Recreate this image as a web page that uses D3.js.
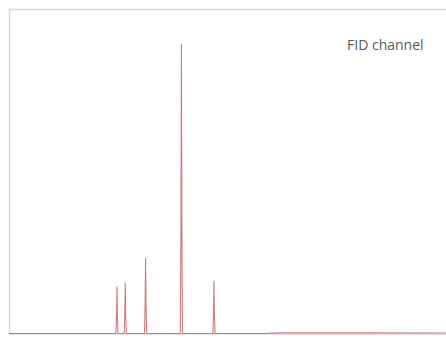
<!DOCTYPE html>
<html>
<head>
<meta charset="utf-8">
<script src="https://cdn.jsdelivr.net/npm/d3@7"></script>
<style>
  body { margin: 0; background: #fff; }
  svg { display: block; }
  .label { font-family: "Open Sans", "Noto Sans", sans-serif; font-size: 14px; fill: #595959; }
</style>
</head>
<body>
<script>
// retention time (min) and detector signal (% of full scale)
var times   = [0, 4.89, 4.92, 4.94, 4.96, 4.99, 5.27, 5.30, 5.32, 5.34, 5.37,
               6.20, 6.23, 6.25, 6.27, 6.30, 7.84, 7.87, 7.89, 7.91, 7.94,
               9.33, 9.36, 9.38, 9.40, 9.43, 11.6, 12.4, 16.0, 20.0];
var signal  = [0, 0, 5.5, 14.5, 5.5, 0, 0, 6.0, 15.8, 6.0, 0,
               0, 9.0, 23.3, 9.0, 0, 0, 34.0, 89.5, 34.0, 0,
               0, 6.0, 16.2, 6.0, 0, 0, 0.2, 0.2, 0.15];
var channelName = "FID channel";

var width = 446,
    height = 340,
    leftEdge = 9,
    topEdge = 9,
    baseY = 333.5;

var svg = d3.select("body").append("svg")
    .attr("width", width)
    .attr("height", height);

var x = d3.scaleLinear().domain([0, 20]).range([leftEdge, width]);
var y = d3.scaleLinear().domain([0, 100]).range([baseY, topEdge + 1]);

// plot frame (right side runs off the picture)
svg.append("rect")
    .attr("x", leftEdge + 0.5)
    .attr("y", topEdge + 0.5)
    .attr("width", width)
    .attr("height", baseY - topEdge)
    .attr("fill", "#fff")
    .attr("stroke", "#d9d9d9")
    .attr("stroke-width", 1.5);

var trace = d3.zip(times, signal);

var line = d3.line()
    .x(function(d){ return x(d[0]); })
    .y(function(d){ return y(d[1]); });

svg.append("path")
    .datum(trace)
    .attr("d", line)
    .attr("fill", "none")
    .attr("stroke", "#c9575a")
    .attr("stroke-opacity", 0.8)
    .attr("stroke-width", 1.1);

svg.append("text")
    .attr("class", "label")
    .attr("x", 347)
    .attr("y", 50)
    .text(channelName);
</script>
</body>
</html>
